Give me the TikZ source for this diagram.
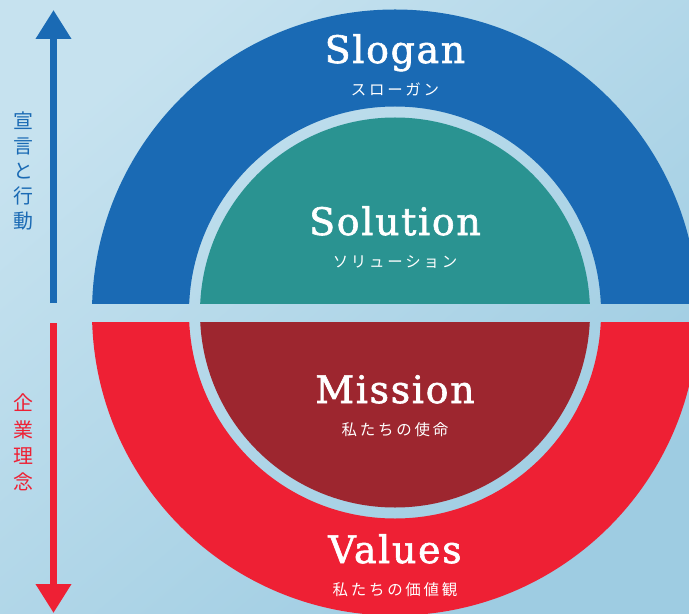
\documentclass[tikz,border=0pt]{standalone}
\usepackage{fontspec}
\setmainfont{DejaVu Serif}
\newfontfamily\titlefont{DejaVu Serif}[FakeBold=1.6,LetterSpace=4.5]
\newfontfamily\jpfont{Noto Sans CJK JP}[LetterSpace=18]
\newfontfamily\sidefont{Noto Sans CJK JP}
\usetikzlibrary{positioning,arrows.meta}

\definecolor{bgtop}{HTML}{C6E2EF}
\definecolor{bgbottom}{HTML}{9ECCE2}
\definecolor{sloganblue}{HTML}{1A6AB4}
\definecolor{solutionteal}{HTML}{2A9391}
\definecolor{missionred}{HTML}{9D262F}
\definecolor{valuesred}{HTML}{EE2034}

\begin{document}
\begin{tikzpicture}[x=1bp,y=-1bp]
		\tikzstyle{title}=[text=white, font=\titlefont\fontsize{38}{40}\selectfont, inner sep=0pt, text height=29bp, text depth=0bp, anchor=base]
		\tikzstyle{sub}=[text=white, font=\jpfont\fontsize{15.5}{16}\selectfont, inner sep=0pt, text height=11.8bp, text depth=0bp, node distance=20bp]
		\tikzstyle{side}=[font=\sidefont\fontsize{20}{25}\selectfont, align=center, inner sep=0pt]
		\tikzstyle{bar}=[line width=7bp, -{Triangle[length=29bp,width=34bp]}]
		
		\useasboundingbox (0,0) rectangle (689,614);
		\shade[top color=bgtop, bottom color=bgbottom, shading angle=40] (0,0) rectangle (689,614);
		
		\coordinate (c) at (395,312.5);
		
		% upper half: slogan ring and solution disc
		\begin{scope}
			\clip (0,0) rectangle (689,303);
			\fill[sloganblue, even odd rule] (c) circle (303bp) (c) circle (206bp);
			\fill[solutionteal] (c) circle (195bp);
		\end{scope}
		
		% lower half: values ring and mission disc
		\begin{scope}
			\clip (0,322) rectangle (689,614);
			\fill[valuesred, even odd rule] (c) circle (303bp) (c) circle (206bp);
			\fill[missionred] (c) circle (195bp);
		\end{scope}
		
		\node[title] (slogan)   at (395,63)  {Slogan};
		\node[title] (solution) at (395,235) {Solution};
		\node[title] (mission)  at (395,403) {Mission};
		\node[title] (values)   at (395,563) {Values};
		
		\node[sub] (sloganjp)   [below=of slogan]   {スローガン};
		\node[sub] (solutionjp) [below=of solution] {ソリューション};
		\node[sub] (missionjp)  [below=of mission]  {私たちの使命};
		\node[sub] (valuesjp)   [below=of values]   {私たちの価値観};
		
		% arrows on the left
		\coordinate (upstart) at (53.5,303);
		\coordinate (upend)   at (53.5,10);
		\coordinate (downstart) at (53.5,323);
		\coordinate (downend)   at (53.5,613);
		\draw[bar, sloganblue] (upstart) -- (upend);
		\draw[bar, valuesred]  (downstart) -- (downend);
		
		\node[side, text=sloganblue] (action) at (23,171) {宣\\言\\と\\行\\動};
		\node[side, text=valuesred, font=\sidefont\fontsize{20}{26.5}\selectfont] (philosophy) at (23,442.5) {企\\業\\理\\念};
\end{tikzpicture}
\end{document}
